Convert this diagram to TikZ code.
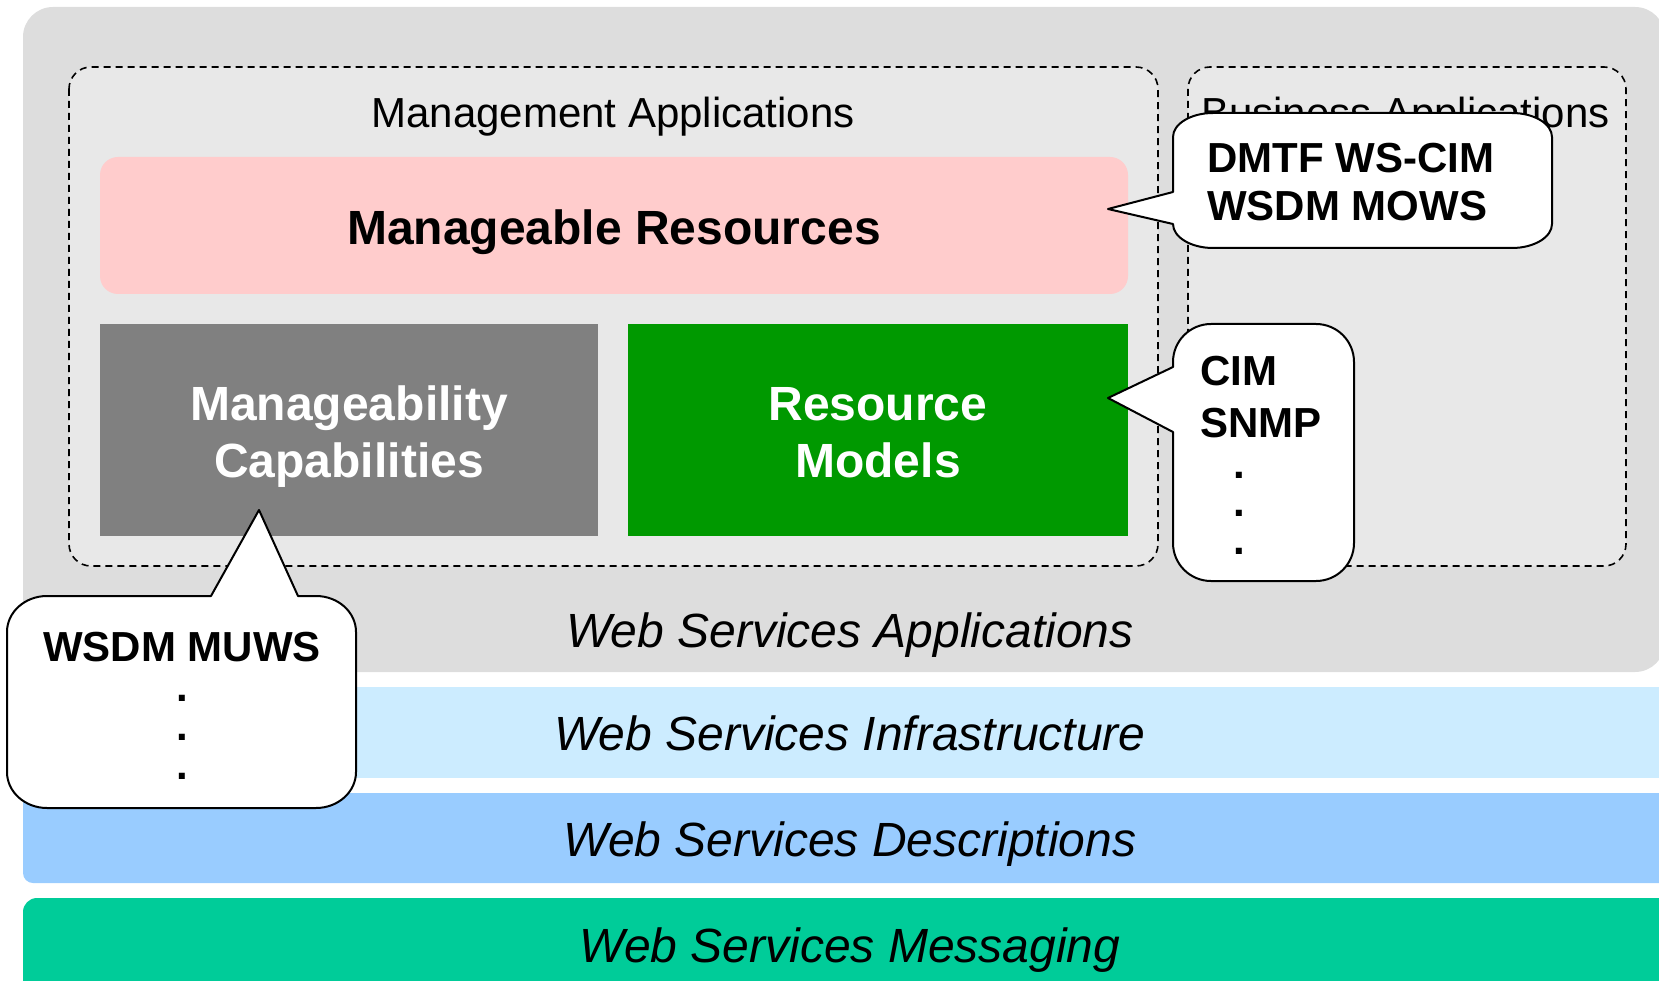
\documentclass[tikz,border=0pt]{standalone}
\usepackage{fontspec}
\setmainfont{Liberation Sans}
\definecolor{outergray}{HTML}{DDDDDD}
\definecolor{dashfill}{HTML}{E8E8E8}
\definecolor{pinkbox}{HTML}{FFCCCC}
\definecolor{graybox}{HTML}{808080}
\definecolor{greenbox}{HTML}{009900}
\definecolor{infrablue}{HTML}{CCECFF}
\definecolor{descblue}{HTML}{99CCFF}
\definecolor{msgteal}{HTML}{00CC99}
\newcommand\myfs[1]{\fontsize{#1}{#1}\selectfont}
\begin{document}
\begin{tikzpicture}[x=1pt,y=-1pt,
  dashbox/.style={draw=black,line width=1.6pt,dash pattern=on 7pt off 5pt,rounded corners=22pt,fill=dashfill},
  callout/.style={draw=black,line width=2pt,fill=white,line join=round},
  lbl/.style={inner sep=0pt,anchor=base},
  lbll/.style={inner sep=0pt,anchor=base west},
  regtxt/.style={font=\myfs{42}},
  boldtxt/.style={font=\myfs{48}\bfseries},
  cbold/.style={font=\myfs{42}\bfseries},
  ittxt/.style={font=\myfs{48}\itshape},
  dot/.style={inner sep=0pt,anchor=center,font=\myfs{42}\bfseries}]
\useasboundingbox (0,0) rectangle (1659,981);
\clip (0,0) rectangle (1659,981);
% layers
\fill[outergray,rounded corners=30pt] (23,7) rectangle (1665,672);
\fill[infrablue] (23,687) rectangle (1700,778);
\fill[descblue,rounded corners=10pt] (23,793) rectangle (1700,883);
\fill[msgteal,rounded corners=14pt] (23,898) rectangle (1700,1010);
% dashed groups
\path[dashbox] (69,67) rectangle (1158,566);
\path[dashbox] (1188,67) rectangle (1626,566);
\node[lbl,regtxt] (mgmttitle) at (613,128) {Management Applications};
\node[lbll,regtxt] (bustitle) at (1201,128) {Business Applications};
% boxes
\fill[pinkbox,rounded corners=18pt] (100,157) rectangle (1128,294);
\node[lbl,boldtxt] (mr) at (614,245) {Manageable Resources};
\fill[graybox] (100,324) rectangle (598,536);
\node[lbl,boldtxt,text=white] (mc1) at (349,420) {Manageability};
\node[lbl,boldtxt,text=white] (mc2) at (349,477) {Capabilities};
\fill[greenbox] (628,324) rectangle (1128,536);
\node[lbl,boldtxt,text=white] (rm1) at (878,420) {Resource};
\node[lbl,boldtxt,text=white] (rm2) at (878,477) {Models};
% layer labels
\node[lbl,ittxt] (wsapp) at (850,647) {Web Services Applications};
\node[lbl,ittxt] (wsinf) at (850,750) {Web Services Infrastructure};
\node[lbl,ittxt] (wsdesc) at (850,856) {Web Services Descriptions};
\node[lbl,ittxt] (wsmsg) at (850,962) {Web Services Messaging};
% callout DMTF (elliptical corners rx=40, ry=24)
\path[callout] (1213,113) -- (1512,113) .. controls (1534,113) and (1552,123.8) .. (1552,137)
  -- (1552,224) .. controls (1552,237.2) and (1534,248) .. (1512,248)
  -- (1213,248) .. controls (1191,248) and (1173,237.2) .. (1173,224)
  -- (1108,209) -- (1173,192)
  -- (1173,137) .. controls (1173,123.8) and (1191,113) .. (1213,113) -- cycle;
\node[lbll,cbold] (dmtf) at (1207,173) {DMTF WS-CIM};
\node[lbll,cbold] (mows) at (1207,221) {WSDM MOWS};
% callout CIM
\path[callout] (1211,324) -- (1316,324) .. controls (1337,324) and (1354,341) .. (1354,362)
  -- (1354,543) .. controls (1354,564) and (1337,581) .. (1316,581)
  -- (1211,581) .. controls (1190,581) and (1173,564) .. (1173,543)
  -- (1173,432) -- (1108,398) -- (1173,367)
  -- (1173,362) .. controls (1173,341) and (1190,324) .. (1211,324) -- cycle;
\node[lbll,cbold] (cim) at (1200,385) {CIM};
\node[lbll,cbold] (snmp) at (1200,437) {SNMP};
\node[dot] (cd1) at (1239,475) {.};
\node[dot] (cd2) at (1239,513) {.};
\node[dot] (cd3) at (1239,551) {.};
% callout MUWS
\path[callout] (7,632) .. controls (7,612) and (25,596) .. (47,596)
  -- (211,596) -- (259,510) -- (298,596)
  -- (316,596) .. controls (338,596) and (356,612) .. (356,632)
  -- (356,772) .. controls (356,792) and (338,808) .. (316,808)
  -- (47,808) .. controls (25,808) and (7,792) .. (7,772) -- cycle;
\node[lbl,cbold] (muws) at (182,661) {WSDM MUWS};
\node[dot] (md1) at (182,698) {.};
\node[dot] (md2) at (182,737) {.};
\node[dot] (md3) at (182,776) {.};
\end{tikzpicture}
\end{document}
